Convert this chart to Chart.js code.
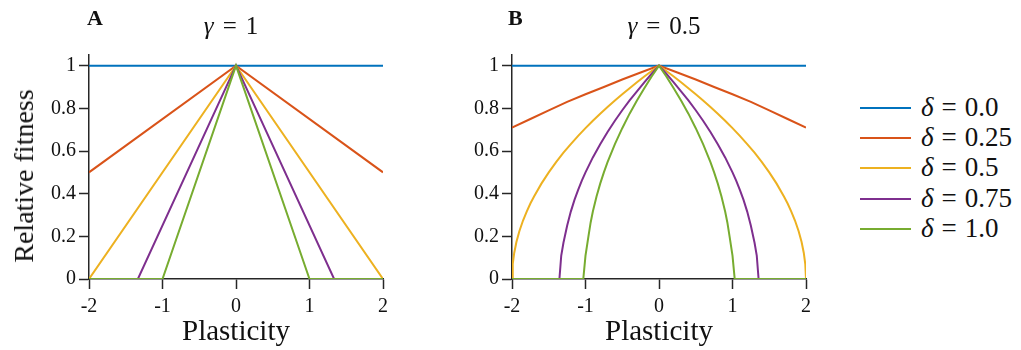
<!DOCTYPE html>
<html><head><meta charset="utf-8">
<script src="https://cdn.jsdelivr.net/npm/chart.js@4.4.1/dist/chart.umd.min.js"></script>
<style>
body{margin:0;width:1021px;height:350px;background:#fff;position:relative;overflow:hidden;font-family:"Liberation Serif","DejaVu Serif",serif;color:#111;}
canvas{position:absolute;top:0}
#cA{left:0}
#cB{left:420px}
.lbl{position:absolute;font-weight:bold;font-size:22px;line-height:22px;}
.ttl{position:absolute;font-size:25px;line-height:25px;white-space:nowrap;transform:translateX(-50%);}
.ttl .eq{padding:0 9px;}
.ytl{position:absolute;left:24px;top:176px;font-size:28px;line-height:28px;white-space:nowrap;transform:translate(-50%,-50%) rotate(-90deg);}
.leg{position:absolute;left:860px;width:160px;height:24px;}
.leg .sw{position:absolute;left:0;top:11px;width:51px;height:2px;}
.leg .tx{position:absolute;left:61px;top:-2px;font-size:27px;line-height:27px;white-space:nowrap;}
.leg .eq{padding:0 8px;}
</style></head>
<body>
<canvas id="cA" width="440" height="350"></canvas>
<canvas id="cB" width="440" height="350"></canvas>
<div class="lbl" style="left:87px;top:7px">A</div>
<div class="lbl" style="left:508px;top:7px">B</div>
<div class="ttl" style="left:231px;top:13px"><i>γ</i><span class="eq">=</span>1</div>
<div class="ttl" style="left:664px;top:13px"><i>γ</i><span class="eq">=</span>0.5</div>
<div class="ytl">Relative fitness</div>
<div id="legend"></div>
<script>
// ----- data -----
const deltaLabels = ["0.0", "0.25", "0.5", "0.75", "1.0"];
const colors = ["#0072BD", "#D95319", "#EDB120", "#7E2F8E", "#77AC30"];
const xTicks = [-2, -1, 0, 1, 2];
const yTicks = [0, 0.2, 0.4, 0.6, 0.8, 1];

// Panel A (gamma = 1)
const xA0 = [-2, 2];                    const yA0 = [1, 1];
const xA25 = [-2, 0, 2];                const yA25 = [0.5, 1, 0.5];
const xA50 = [-2, 0, 2];                const yA50 = [0, 1, 0];
const xA75 = [-2, -1.335, 0, 1.335, 2]; const yA75 = [0, 0, 1, 0, 0];
const xA100 = [-2, -1, 0, 1, 2];        const yA100 = [0, 0, 1, 0, 0];

// Panel B (gamma = 0.5)
const xB0 = [-2, 2];  const yB0 = [1, 1];
const xB25 = [-2, -1.75, -1.5, -1.25, -1, -0.75, -0.5, -0.25, 0, 0.25, 0.5, 0.75, 1, 1.25, 1.5, 1.75, 2];
const yB25 = [0.71, 0.75, 0.79, 0.83, 0.866, 0.90, 0.935, 0.968, 1, 0.968, 0.935, 0.90, 0.866, 0.83, 0.79, 0.75, 0.71];
const xB50 = [-2, -1.99, -1.97, -1.94, -1.9, -1.85, -1.8, -1.75, -1.7, -1.6, -1.5, -1.4, -1.3, -1.2, -1.1, -1, -0.9, -0.8, -0.7, -0.6, -0.5, -0.4, -0.3, -0.2, -0.1, 0,
              0.1, 0.2, 0.3, 0.4, 0.5, 0.6, 0.7, 0.8, 0.9, 1, 1.1, 1.2, 1.3, 1.4, 1.5, 1.6, 1.7, 1.75, 1.8, 1.85, 1.9, 1.94, 1.97, 1.99, 2];
const yB50 = [0, 0.07, 0.122, 0.173, 0.224, 0.274, 0.316, 0.354, 0.387, 0.447, 0.5, 0.548, 0.592, 0.632, 0.671, 0.707, 0.742, 0.775, 0.806, 0.837, 0.866, 0.894, 0.922, 0.949, 0.975, 1,
              0.975, 0.949, 0.922, 0.894, 0.866, 0.837, 0.806, 0.775, 0.742, 0.707, 0.671, 0.632, 0.592, 0.548, 0.5, 0.447, 0.387, 0.354, 0.316, 0.274, 0.224, 0.173, 0.122, 0.07, 0];
const xB75 = [-2, -1.355, -1.33, -1.3, -1.25, -1.2, -1.15, -1.1, -1.05, -1, -0.9, -0.8, -0.7, -0.6, -0.5, -0.4, -0.3, -0.2, -0.1, 0,
              0.1, 0.2, 0.3, 0.4, 0.5, 0.6, 0.7, 0.8, 0.9, 1, 1.05, 1.1, 1.15, 1.2, 1.25, 1.3, 1.33, 1.355, 2];
const yB75 = [0, 0, 0.11, 0.17, 0.25, 0.316, 0.371, 0.418, 0.461, 0.5, 0.57, 0.632, 0.689, 0.742, 0.791, 0.837, 0.88, 0.922, 0.962, 1,
              0.962, 0.922, 0.88, 0.837, 0.791, 0.742, 0.689, 0.632, 0.57, 0.5, 0.461, 0.418, 0.371, 0.316, 0.25, 0.17, 0.11, 0, 0];
const xB100 = [-2, -1.03, -1, -0.96, -0.93, -0.9, -0.85, -0.8, -0.75, -0.7, -0.6, -0.5, -0.4, -0.3, -0.2, -0.1, 0,
               0.1, 0.2, 0.3, 0.4, 0.5, 0.6, 0.7, 0.75, 0.8, 0.85, 0.9, 0.93, 0.96, 1, 1.03, 2];
const yB100 = [0, 0, 0.11, 0.2, 0.265, 0.316, 0.387, 0.447, 0.5, 0.548, 0.632, 0.707, 0.775, 0.837, 0.894, 0.949, 1,
               0.949, 0.894, 0.837, 0.775, 0.707, 0.632, 0.548, 0.5, 0.447, 0.387, 0.316, 0.265, 0.2, 0.11, 0, 0];

const panelA = [[xA0, yA0], [xA25, yA25], [xA50, yA50], [xA75, yA75], [xA100, yA100]];
const panelB = [[xB0, yB0], [xB25, yB25], [xB50, yB50], [xB75, yB75], [xB100, yB100]];

// ----- chart building -----
const AX = '#262626';
const FONT = '"Liberation Serif", "DejaVu Serif", serif';

function datasets(panel) {
  return panel.map(([xs, ys], i) => ({
    label: 'δ = ' + deltaLabels[i],
    data: xs.map((x, k) => ({x: x, y: ys[k]})),
    borderColor: colors[i],
    backgroundColor: colors[i],
    borderWidth: 2,
    pointRadius: 0,
    showLine: true,
    fill: false,
    tension: 0,
    order: panel.length - i
  }));
}

function makeChart(id, panel, yWidth, padRight) {
  new Chart(document.getElementById(id), {
    type: 'scatter',
    data: {datasets: datasets(panel)},
    options: {
      responsive: false, animation: false, devicePixelRatio: 1,
      layout: {padding: {top: 55, right: padRight, left: 0, bottom: 0}},
      plugins: {legend: {display: false}, tooltip: {enabled: false}},
      scales: {
        x: {
          type: 'linear', min: -2, max: 2,
          afterBuildTicks: s => { s.ticks = xTicks.map(v => ({value: v})); },
          afterFit: s => { s.height = 71; },
          ticks: {color: '#111', padding: 6, font: {family: FONT, size: 20}, callback: v => String(v)},
          grid: {display: true, drawOnChartArea: false, drawTicks: true, tickLength: 10, color: AX, tickColor: AX, tickWidth: 1.5},
          border: {display: true, color: AX, width: 1.5},
          title: {display: true, text: 'Plasticity', color: '#111', font: {family: FONT, size: 29}, padding: {top: 0, bottom: 0}}
        },
        y: {
          type: 'linear', min: 0, max: 1.05,
          afterBuildTicks: s => { s.ticks = yTicks.map(v => ({value: v})); },
          afterFit: s => { s.width = yWidth; },
          ticks: {color: '#111', padding: 3, font: {family: FONT, size: 20}, callback: v => String(v)},
          grid: {display: true, drawOnChartArea: false, drawTicks: true, tickLength: 10, color: AX, tickColor: AX, tickWidth: 1.5},
          border: {display: true, color: AX, width: 1.5}
        }
      }
    }
  });
}

makeChart('cA', panelA, 89, 440 - 383);
makeChart('cB', panelB, 92, 440 - 386);

// legend (HTML, mixed italic math text)
const legTop = [96, 126, 156, 187, 217];
const leg = document.getElementById('legend');
deltaLabels.forEach((d, i) => {
  const row = document.createElement('div');
  row.className = 'leg';
  row.style.top = legTop[i] + 'px';
  row.innerHTML = '<div class="sw" style="background:' + colors[i] + '"></div>' +
    '<div class="tx"><i>δ</i><span class="eq">=</span>' + d + '</div>';
  leg.appendChild(row);
});
</script>
</body></html>
